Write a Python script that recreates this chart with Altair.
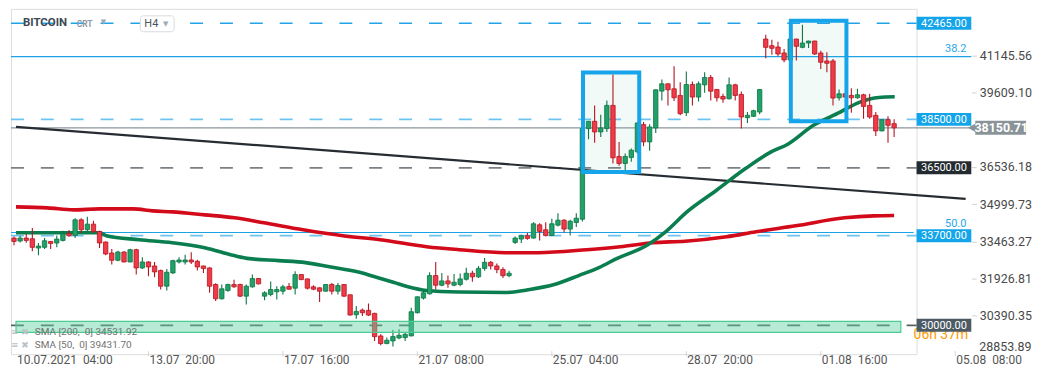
import altair as alt
import pandas as pd

# ---------------- data (BITCOIN, H4 candles) ----------------
opens = [33601, 33478, 33601, 33574, 33190, 33218, 33464, 33396, 33505, 33793,
         33711, 34354, 33943, 34176, 33875, 33437, 32985, 32684, 33026, 32615,
         33122, 32369, 32615, 32451, 32259, 31616, 32164, 32615, 32615, 32697,
         32643, 32451, 32369, 31684, 31096, 31438, 31684, 31684, 31205, 31588,
         31930, 31205, 31273, 31383, 31410, 31602, 31533, 32095, 31917, 31588,
         31547, 31410, 31684, 31410, 31684, 31259, 30438, 30630, 30616, 30493,
         29562, 29247, 29357, 29480, 29493, 29562, 30520, 31123, 31301, 32053,
         31656, 31834, 31656, 31684, 31900, 32150, 32000, 32350, 32600, 32450,
         32300, 32050, 33423, 33560, 33697, 33601, 34148, 33943, 33710, 34135,
         34340, 33971, 34244, 34381, 38119, 38420, 37982, 38119, 39077, 36969,
         36681, 36928, 37160, 38283, 37571, 38146, 39666, 39967, 39761, 39488,
         38776, 39939, 39419, 39925, 40227, 39734, 39446, 39350, 39925, 39528,
         38570, 38625, 38803, 41815, 41541, 41486, 41240, 40952, 41815, 41472,
         41650, 41733, 41240, 40911, 40911, 39392, 39556, 39487, 39392, 39515,
         39077, 38666, 38023, 38488, 38324]
highs = [33669, 33697, 33765, 34012, 33396, 33601, 33480, 33711, 33902, 33930,
         34422, 34422, 34477, 34313, 33902, 33464, 33149, 33081, 33053, 33163,
         33163, 32807, 32643, 32615, 32300, 32328, 32711, 32807, 32916, 33012,
         32711, 32460, 32396, 31739, 31684, 31712, 31876, 31711, 31684, 32095,
         31945, 31410, 31807, 31615, 31670, 31752, 32231, 32110, 31930, 31656,
         31560, 31695, 31752, 31752, 31695, 31270, 30794, 30698, 30904, 30520,
         29630, 29493, 29808, 29836, 29699, 30726, 31190, 31478, 32190, 32615,
         32163, 32053, 32122, 32136, 32380, 32250, 32450, 32780, 32650, 32550,
         32400, 32250, 33669, 33738, 33806, 34258, 34217, 34258, 34395, 34628,
         34381, 34354, 34628, 38146, 38430, 39077, 38694, 39282, 40350, 37571,
         37092, 37297, 38370, 38392, 38297, 39735, 40145, 39980, 40692, 40035,
         40473, 40062, 40062, 40446, 40336, 39750, 39556, 40227, 39967, 39652,
         38803, 38899, 39750, 41993, 41787, 41705, 41404, 41830, 41830, 42403,
         41745, 41745, 41336, 41267, 40993, 39734, 39570, 39789, 39761, 39556,
         39556, 38803, 38500, 38625, 38502]
lows = [33300, 33423, 33409, 33053, 32889, 33149, 33149, 33218, 33464, 33656,
        33601, 33806, 33875, 33806, 33190, 32889, 32506, 32643, 32601, 32600,
        32095, 32328, 32027, 31986, 31479, 31438, 32122, 32547, 32506, 32533,
        32259, 32164, 31342, 31000, 31068, 31383, 31547, 31164, 30862, 31547,
        31684, 31040, 31205, 31068, 31273, 31478, 31273, 31862, 31478, 31451,
        30958, 31400, 31273, 31273, 31177, 30410, 30274, 30383, 30383, 29357,
        29179, 29220, 29124, 29425, 29357, 29550, 30493, 31068, 31273, 31478,
        31615, 31547, 31615, 31615, 31850, 31800, 31950, 32250, 32300, 32150,
        31950, 31980, 33354, 33395, 33532, 33573, 33505, 33669, 33697, 34080,
        33834, 33710, 34053, 34285, 37680, 37530, 37776, 37982, 36681, 36585,
        36366, 36750, 37092, 37393, 37201, 37941, 39282, 39077, 39255, 38666,
        38639, 39077, 39241, 39597, 39282, 39241, 39186, 39323, 39282, 38118,
        38351, 38598, 38707, 41021, 41171, 41103, 40856, 40925, 40925, 41431,
        41445, 41158, 40583, 40446, 39077, 39282, 39400, 38776, 39350, 38529,
        38529, 37817, 38009, 37530, 37776]
closes = [33464, 33601, 33505, 33218, 33272, 33491, 33382, 33560, 33779, 33697,
          34354, 33943, 34176, 33875, 33396, 32944, 32684, 33026, 32615, 33122,
          32369, 32615, 32410, 32205, 31616, 32191, 32670, 32697, 32697, 32615,
          32410, 32342, 31616, 31096, 31506, 31684, 31589, 31205, 31615, 31930,
          31711, 31342, 31478, 31478, 31588, 31492, 32095, 31889, 31533, 31492,
          31410, 31684, 31410, 31643, 31205, 30424, 30575, 30520, 30424, 29535,
          29247, 29384, 29535, 29589, 29630, 30561, 31177, 31342, 32053, 31656,
          31834, 31711, 31780, 31917, 32150, 32000, 32350, 32600, 32450, 32300,
          32050, 32150, 33601, 33697, 33587, 34190, 33875, 33710, 34190, 34340,
          33971, 34299, 34422, 38119, 38420, 37982, 38146, 39077, 36914, 36681,
          36969, 37229, 38351, 37571, 38187, 39720, 39967, 39720, 39392, 38735,
          39939, 39419, 39967, 40227, 39665, 39392, 39337, 39925, 39487, 38598,
          38666, 38858, 39734, 41472, 41431, 41199, 40952, 41815, 41514, 41650,
          41733, 41199, 40856, 40815, 39378, 39556, 39419, 39392, 39515, 39036,
          38598, 38023, 38488, 38255, 38151]

sma200_idx = [0.33, 5.5, 9.8, 14, 19.5, 22.7, 25.9, 31.2, 36.1, 40.9, 47.3, 53.8, 59.9,
              67.5, 72.8, 80.4, 85.7, 93.7, 99.2, 104.5, 109.8, 116.6, 121.4, 127.9,
              135.9, 140.7, 144]
sma200_val = [34888, 34846, 34764, 34805, 34805, 34723, 34682, 34559, 34436, 34230,
              33943, 33697, 33533, 33245, 33122, 32998, 32998, 33122, 33245, 33409,
              33471, 33656, 33861, 34107, 34436, 34518, 34532]

sma50_idx = [0.33, 14, 15.1, 20.5, 25.9, 31.2, 36, 38.5, 43.3, 47.7, 51.4, 56.7, 58.9,
             62.2, 64.3, 67.5, 72.8, 80.4, 84.4, 88.4, 92.4, 95.7, 98.6, 103.7, 106.6,
             110.1, 115, 119.8, 123.8, 126.6, 130.8, 135.1, 138.3, 141.5, 144.1]
sma50_val = [33820, 33820, 33697, 33533, 33410, 33204, 32880, 32752, 32670, 32588,
             32424, 32177, 32013, 31766, 31602, 31438, 31376, 31356, 31479, 31684,
             32054, 32382, 32752, 33327, 33861, 34682, 35586, 36489, 37146, 37475,
             38255, 38789, 39200, 39405, 39432]

trend_idx = [0.33, 155.7]
trend_val = [38189, 35216]

level_prices = [42465, 38500, 36500, 33700, 30000]
level_labels = ["42465.00", "38500.00", "36500.00", "33700.00", "30000.00"]

fib_levels = [41090, 33832]
fib_labels = ["38.2", "50.0"]

rect_start = [93.1, 127.1]
rect_end = [102.3, 136.2]
rect_top = [40432, 42568]
rect_bottom = [36325, 38420]

zone_start, zone_end = 0.33, 145.1
zone_low, zone_high = 29713, 30165

current_price = 38150.71

axis_values = [41145.56, 39609.10, 36536.18, 34999.73, 33463.27, 31926.81, 30390.35]
axis_bottom_label = "28853.89"

date_idx = [0, 22, 44, 66, 88, 110, 132, 154]
date_labels = ["10.07.2021\u00a0 04:00", "13.07\u00a0 20:00", "17.07\u00a0 16:00", "21.07\u00a0 08:00",
               "25.07\u00a0 04:00", "28.07\u00a0 20:00", "01.08\u00a0 16:00", "05.08\u00a0 08:00"]

sma_legend = ["SMA [200,\u00a0 0] 34531.92", "SMA [50,\u00a0 0] 39431.70"]

# ---------------- chart ----------------
W, H = 910, 347
FONT = "Roboto"
xs = alt.Scale(domain=[0.322, 146.86], nice=False, zero=False)
ys = alt.Scale(domain=[28809, 43060], nice=False, zero=False)
yax = alt.Axis(orient="right", values=axis_values, format=".2f", offset=55, tickSize=5,
               tickColor="#cfd3d6", domain=False, grid=False, labelPadding=3, labelFont=FONT,
               labelFontSize=12.5, labelColor="#4a4a4a", title=None, labelFlush=False,
               labelOverlap=False)


def X(f):
    return alt.X(f, type="quantitative", scale=xs, axis=None)


def Y(f):
    return alt.Y(f, type="quantitative", scale=ys, axis=yax)


cdf = pd.DataFrame({"i": list(range(len(opens))), "o": opens, "h": highs, "l": lows, "c": closes})
up = "datum.c >= datum.o"
G, GS = "#21a169", "#0c7544"
R, RS = "#ef3b47", "#b5141f"

rdf = pd.DataFrame({"x0": rect_start, "x1": rect_end, "top": rect_top, "bot": rect_bottom})
rect_fill = alt.Chart(rdf).mark_rect(fill="#f1faf6", stroke=None).encode(
    x=X("x0"), x2=alt.X2("x1"), y=Y("top"), y2=alt.Y2("bot"))
rect_stroke = alt.Chart(rdf).mark_rect(fillOpacity=0, stroke="#16a4ea", strokeWidth=4).encode(
    x=X("x0"), x2=alt.X2("x1"), y=Y("top"), y2=alt.Y2("bot"))

fdf = pd.DataFrame({"p": fib_levels, "t": fib_labels})
fib382_line = alt.Chart(fdf.iloc[[0]]).mark_rule(color="#1ea2e6", strokeWidth=1.2).encode(
    y=Y("p"), x=alt.value(0), x2=alt.value(965))
fib500_line = alt.Chart(fdf.iloc[[1]]).mark_rule(color="#1ea2e6", strokeWidth=1.2).encode(
    y=Y("p"), x=alt.value(0), x2=alt.value(907))
fib_text = alt.Chart(fdf).mark_text(align="right", baseline="middle", dy=-8, font=FONT,
                                   fontSize=11, color="#2aa7ea").encode(
    y=Y("p"), x=alt.value(960), text="t:N")

ldf = pd.DataFrame({"p": level_prices, "t": level_labels})
dash = [13, 17]
lvl_top = alt.Chart(ldf.iloc[[0]]).mark_rule(color="#22a3e8", strokeWidth=1.6, strokeDash=dash).encode(
    y=Y("p"), x=alt.value(0), x2=alt.value(910))
lvl_light = alt.Chart(ldf.iloc[[1, 3]]).mark_rule(color="#6ec4f0", strokeWidth=1.8, strokeDash=dash).encode(
    y=Y("p"), x=alt.value(0), x2=alt.value(910))
lvl_gray = alt.Chart(ldf.iloc[[2]]).mark_rule(color="#7a8186", strokeWidth=1.8, strokeDash=dash).encode(
    y=Y("p"), x=alt.value(0), x2=alt.value(910))
lvl_zone = alt.Chart(ldf.iloc[[4]]).mark_rule(color="#55625d", strokeWidth=1.8, strokeDash=dash).encode(
    y=Y("p"), x=alt.value(0), x2=alt.value(910))

pdf = pd.DataFrame({"p": [current_price], "t": ["%.2f" % current_price]})
price_line = alt.Chart(pdf).mark_rule(color="#8c969c", strokeWidth=1.4).encode(
    y=Y("p"), x=alt.value(0), x2=alt.value(965))

tdf = pd.DataFrame({"i": trend_idx, "v": trend_val})
trend = alt.Chart(tdf).mark_line(color="#262c31", strokeWidth=2.2).encode(x=X("i"), y=Y("v"))

s200 = alt.Chart(pd.DataFrame({"i": sma200_idx, "v": sma200_val})).mark_line(
    color="#d20a1a", strokeWidth=3.6, interpolate="monotone").encode(x=X("i"), y=Y("v"))
s50 = alt.Chart(pd.DataFrame({"i": sma50_idx, "v": sma50_val})).mark_line(
    color="#0a7e4f", strokeWidth=3.6, interpolate="monotone").encode(x=X("i"), y=Y("v"))

wicks = alt.Chart(cdf).mark_rule(strokeWidth=1.1, clip=True).encode(
    x=X("i"), y=Y("l"), y2=alt.Y2("h"),
    color=alt.condition(up, alt.value(GS), alt.value(RS)))
bodies = alt.Chart(cdf).mark_bar(size=4.4, strokeWidth=0.8, clip=True).encode(
    x=X("i"), y=Y("o"), y2=alt.Y2("c"),
    fill=alt.condition(up, alt.value(G), alt.value(R)),
    stroke=alt.condition(up, alt.value(GS), alt.value(RS)))

zdf = pd.DataFrame({"x0": [zone_start], "x1": [zone_end], "lo": [zone_low], "hi": [zone_high]})
zone = alt.Chart(zdf).mark_rect(fill="#5fd3a4", fillOpacity=0.45, stroke="#4ccb95", strokeWidth=1.2).encode(
    x=X("x0"), x2=alt.X2("x1"), y=Y("hi"), y2=alt.Y2("lo"))

# orange countdown text (partly hidden under 30000 box)
orange = alt.Chart(pd.DataFrame({"t": ["06h 37m"]})).mark_text(
    align="left", baseline="middle", font=FONT, fontSize=14, color="#ff9a00").encode(
    x=alt.value(907), y=alt.value(328), text="t:N")

box_blue = alt.Chart(ldf.iloc[[0, 1, 3]]).mark_rule(color="#13a4ea", strokeWidth=13).encode(
    y=Y("p"), x=alt.value(910), x2=alt.value(965))
box_dark = alt.Chart(ldf.iloc[[2]]).mark_rule(color="#232b30", strokeWidth=13).encode(
    y=Y("p"), x=alt.value(910), x2=alt.value(965))
box_slate = alt.Chart(ldf.iloc[[4]]).mark_rule(color="#4b5a64", strokeWidth=13).encode(
    y=Y("p"), x=alt.value(910), x2=alt.value(965))
box_text = alt.Chart(ldf).mark_text(align="center", baseline="middle", font=FONT, fontSize=11,
                                   color="white", dy=0.5).encode(
    y=Y("p"), x=alt.value(937.5), text="t:N")

tag = alt.Chart(pdf).mark_rule(color="#8a9398", strokeWidth=14).encode(
    y=Y("p"), x=alt.value(969), x2=alt.value(1020))
tag_tip = alt.Chart(pdf).mark_point(shape="triangle-left", filled=True, size=150, opacity=1,
                                    color="#8a9398").encode(y=Y("p"), x=alt.value(967))
tag_text = alt.Chart(pdf).mark_text(align="center", baseline="middle", font=FONT, fontSize=12.5,
                                   fontWeight="bold", color="white", dy=0.5).encode(
    y=Y("p"), x=alt.value(995), text="t:N")

bottom_lbl = alt.Chart(pd.DataFrame({"t": [axis_bottom_label]})).mark_text(
    align="left", baseline="middle", font=FONT, fontSize=12.5, color="#4a4a4a").encode(
    x=alt.value(973), y=alt.value(340), text="t:N")

# top-left instrument legend
one = pd.DataFrame({"k": [0]})
h4_box = alt.Chart(one).mark_rect(fill="white", stroke="#d6dce1", strokeWidth=1, cornerRadius=3).encode(
    x=alt.value(130), x2=alt.value(164), y=alt.value(7), y2=alt.value(23))
title_txt = alt.Chart(pd.DataFrame({"t": ["BITCOIN"]})).mark_text(
    align="left", baseline="middle", font=FONT, fontSize=11.5, fontWeight="bold", color="#3d4852").encode(
    x=alt.value(12), y=alt.value(14.5), text="t:N")
crt_txt = alt.Chart(pd.DataFrame({"t": ["CRT"]})).mark_text(
    align="left", baseline="middle", font=FONT, fontSize=8.5, fontWeight="bold", color="#8d9aa6").encode(
    x=alt.value(66), y=alt.value(15.5), text="t:N")
tri1 = alt.Chart(pd.DataFrame({"t": ["\u25bc"]})).mark_text(
    align="center", baseline="middle", font="DejaVu Sans", fontSize=7, color="#9eabb5").encode(
    x=alt.value(93), y=alt.value(13.5), text="t:N")
h4_txt = alt.Chart(pd.DataFrame({"t": ["H4"]})).mark_text(
    align="left", baseline="middle", font=FONT, fontSize=11, color="#4a5560").encode(
    x=alt.value(134), y=alt.value(15), text="t:N")
tri2 = alt.Chart(pd.DataFrame({"t": ["\u25bc"]})).mark_text(
    align="center", baseline="middle", font="DejaVu Sans", fontSize=7, color="#9eabb5").encode(
    x=alt.value(155.5), y=alt.value(15), text="t:N")

# bottom-left indicator legend
sma_layers = []
for label, ypix in zip(sma_legend, [325.0, 338.0]):
    d = pd.DataFrame({"t": [label]})
    sma_layers.append(alt.Chart(d).mark_text(
        align="left", baseline="middle", font="DejaVu Sans", fontSize=9, color="#b9c0c6").encode(
        x=alt.value(0), y=alt.value(ypix), text=alt.value("\u2261 \u2716")))
    sma_layers.append(alt.Chart(d).mark_text(
        align="left", baseline="middle", font=FONT, fontSize=10, color="#707070").encode(
        x=alt.value(24), y=alt.value(ypix), text="t:N"))

ddf = pd.DataFrame({"i": date_idx, "t": date_labels})
date_ticks = alt.Chart(ddf).transform_filter("datum.i > 0").mark_rule(color="#d3d3d3", strokeWidth=1).encode(
    x=X("i"), y=alt.value(344), y2=alt.value(349))
date_txt = alt.Chart(ddf).transform_calculate(xi="max(datum.i, 0.33)").mark_text(
    align="left", baseline="middle", font=FONT, fontSize=12, color="#555555", dx=1).encode(
    x=X("xi"), y=alt.value(353), text="t:N")

chart = alt.layer(
    rect_fill,
    fib382_line, fib500_line,
    lvl_top, lvl_light, lvl_gray, lvl_zone,
    price_line, trend, s200, s50,
    wicks, bodies,
    zone, rect_stroke,
    orange,
    box_blue, box_dark, box_slate, box_text,
    tag, tag_tip, tag_text, bottom_lbl,
    fib_text,
    title_txt, crt_txt, tri1, h4_box, h4_txt, tri2,
    *sma_layers,
    date_ticks, date_txt,
).properties(width=W, height=H, padding=0).configure_view(
    stroke=None).configure(font=FONT)

chart.save("out.html", embed_options={"renderer": "svg", "actions": False})
